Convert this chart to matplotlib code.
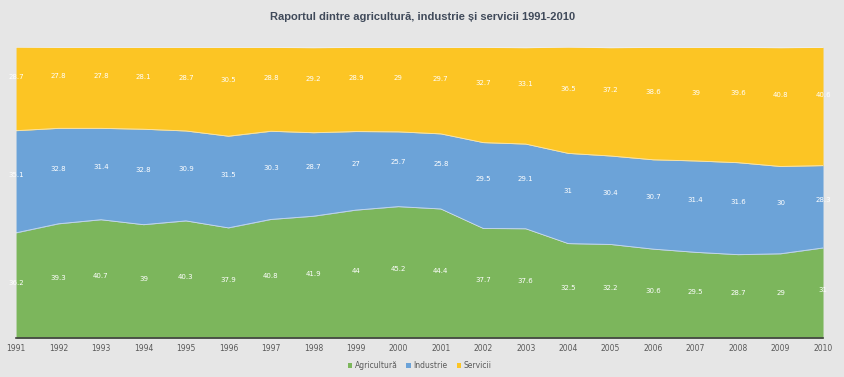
import numpy as np
import matplotlib.pyplot as plt

years = list(range(1991, 2011))
agricultura = [36.2, 39.3, 40.7, 39, 40.3, 37.9, 40.8, 41.9, 44, 45.2,
               44.4, 37.7, 37.6, 32.5, 32.2, 30.6, 29.5, 28.7, 29, 31]
industrie = [35.1, 32.8, 31.4, 32.8, 30.9, 31.5, 30.3, 28.7, 27, 25.7,
             25.8, 29.5, 29.1, 31, 30.4, 30.7, 31.4, 31.6, 30, 28.3]
servicii = [28.7, 27.8, 27.8, 28.1, 28.7, 30.5, 28.8, 29.2, 28.9, 29,
            29.7, 32.7, 33.1, 36.5, 37.2, 38.6, 39, 39.6, 40.8, 40.6]
names = ['Agricultură', 'Industrie', 'Servicii']
colors = ['#7cb65c', '#6ca3d8', '#fcc524']
offsets = [1.0, 2.4, 4.0]

fig = plt.figure(figsize=(8.45, 3.77), dpi=100)
fig.patch.set_facecolor('#e6e6e6')
ax = fig.add_axes([0.019, 0.103, 0.955, 0.772])
ax.set_facecolor('#e6e6e6')

x = np.array(years)
series = [np.array(agricultura), np.array(industrie), np.array(servicii)]
base = np.zeros(len(x))
for s, c, n, off in zip(series, colors, names, offsets):
    ax.fill_between(x, base, base + s, color=c, label=n, lw=0)
    ax.plot(x, base + s, color='#f4f4f4', lw=0.6, alpha=0.7)
    for xi, b, v in zip(x, base, s):
        ax.text(xi, b + v / 2 + off, f'{v:g}', color='white', fontsize=5,
                ha='center', va='center')
    base = base + s

ax.set_xlim(1991, 2010)
ax.set_ylim(0, 100)
ax.set_yticks([])
ax.set_xticks(years)
ax.tick_params(axis='x', length=0, labelsize=5.5, labelcolor='#595959', pad=4)
for sp in ['top', 'right', 'left']:
    ax.spines[sp].set_visible(False)
ax.spines['bottom'].set_color('#404040')
ax.spines['bottom'].set_linewidth(1.2)

fig.text(0.5, 0.955, 'Raportul dintre agricultură, industrie și servicii 1991-2010',
         ha='center', va='center', fontsize=8, fontweight='bold',
         color='#404a5a', family=['Liberation Sans', 'DejaVu Sans'])
ax.legend(loc='upper center', bbox_to_anchor=(0.5, -0.055), ncol=3,
          frameon=False, fontsize=5.5, handlelength=0.6, handleheight=0.6,
          handletextpad=0.3, columnspacing=1.2, labelcolor='#595959')

fig.savefig('out.png', dpi=100, facecolor=fig.get_facecolor())
